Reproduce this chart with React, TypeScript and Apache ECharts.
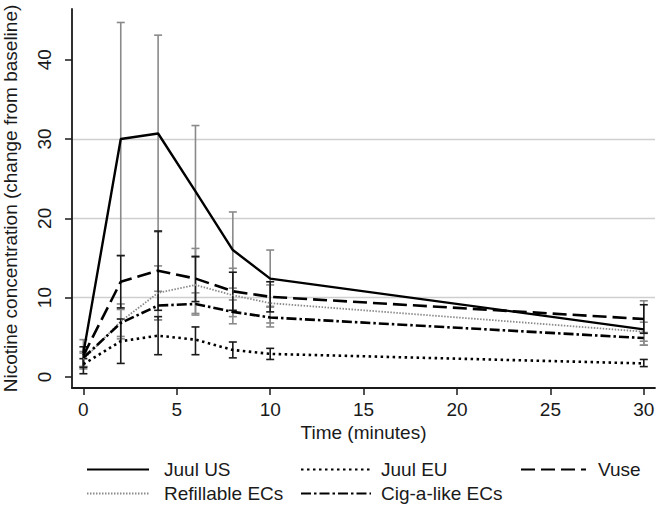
import React, { useEffect, useRef } from "react";
import * as echarts from "echarts";

const times = [0, 2, 4, 6, 8, 10, 30];
const xTicks = [0, 5, 10, 15, 20, 25, 30];
const yTicks = [0, 10, 20, 30, 40];

const seriesNames = ["Juul US", "Juul EU", "Vuse", "Refillable ECs", "Cig-a-like ECs"];

const juulUS = [3.0, 30.0, 30.7, 23.4, 16.0, 12.4, 6.0];
const juulUSLow = [1.3, 15.3, 18.3, 15.1, 11.2, 8.9, 4.0];
const juulUSHigh = [4.7, 44.7, 43.1, 31.7, 20.8, 16.0, 9.6];

const juulEU = [1.6, 4.5, 5.2, 4.7, 3.4, 2.9, 1.7];
const juulEULow = [0.4, 1.7, 2.8, 2.8, 2.4, 2.2, 1.3];
const juulEUHigh = [2.3, 7.3, 7.6, 6.3, 4.4, 3.6, 2.2];

const vuse = [2.7, 12.0, 13.4, 12.4, 10.8, 10.1, 7.3];
const vuseLow = [1.2, 8.7, 8.4, 9.5, 8.4, 8.2, 5.5];
const vuseHigh = [3.8, 15.3, 18.4, 15.2, 13.2, 12.0, 9.1];

const refill = [2.2, 7.0, 10.6, 11.6, 10.3, 9.3, 5.7];
const refillLow = [1.0, 4.8, 7.2, 8.0, 7.6, 6.8, 4.5];
const refillHigh = [3.2, 9.2, 14.0, 16.2, 13.7, 11.6, 6.9];

const cig = [2.4, 6.8, 9.0, 9.2, 8.2, 7.5, 4.9];
const cigLow = [1.3, 5.1, 7.2, 7.8, 6.7, 6.3, 4.0];
const cigHigh = [3.0, 8.5, 10.8, 10.6, 9.7, 8.8, 5.6];

const FONT = "'Liberation Sans', Arial, sans-serif";
const GREY = "#8a8a8a";
const DARK = "#1a1a1a";

function errorSeries(low: number[], high: number[], color: string, z: number) {
  return {
    type: "custom",
    z,
    silent: true,
    data: times.map((t, i) => [t, low[i], high[i]]),
    renderItem: (params: any, api: any) => {
      const x = api.value(0);
      const p1 = api.coord([x, api.value(1)]);
      const p2 = api.coord([x, api.value(2)]);
      const w = 4;
      const style = { stroke: color, lineWidth: 1.6, fill: null };
      return {
        type: "group",
        children: [
          { type: "line", shape: { x1: p1[0], y1: p1[1], x2: p2[0], y2: p2[1] }, style },
          { type: "line", shape: { x1: p1[0] - w, y1: p1[1], x2: p1[0] + w, y2: p1[1] }, style },
          { type: "line", shape: { x1: p2[0] - w, y1: p2[1], x2: p2[0] + w, y2: p2[1] }, style },
        ],
      };
    },
  };
}

function lineSeries(name: string, values: number[], color: string, width: number, dash: any) {
  return {
    type: "line",
    name,
    z: 5,
    symbol: "none",
    symbolSize: 0,
    data: times.map((t, i) => [t, values[i]]),
    lineStyle: { color, width, type: dash, cap: "butt" },
    itemStyle: { color },
  };
}

function legendAt(name: string, left: number, top: number, itemWidth: number, gap: number) {
  return {
    data: [name],
    left,
    top,
    itemWidth,
    itemHeight: 14,
    itemGap: 0,
    selectedMode: false,
    itemStyle: { opacity: 0, borderWidth: 0 },
    textStyle: { fontFamily: FONT, fontSize: 19, color: DARK, padding: [0, 0, 0, gap - 5] },
    padding: 0,
  };
}

export default function App() {
  const ref = useRef<HTMLDivElement>(null);
  useEffect(() => {
    if (!ref.current) return;
    const chart = echarts.init(ref.current, null, { renderer: "svg" });
    chart.setOption({
      animation: false,
      backgroundColor: "#fff",
      grid: { left: 72, right: 2, top: 9, bottom: 120, containLabel: false, outerBoundsMode: "none" },
      xAxis: {
        type: "value",
        min: -0.61,
        max: 30.6,
        name: "Time (minutes)",
        nameLocation: "middle",
        nameGap: 35,
        nameMoveOverlap: false,
        nameTextStyle: { fontFamily: FONT, fontSize: 19, color: DARK, lineHeight: 19 },
        axisLine: { show: true, onZero: false, lineStyle: { color: DARK, width: 1.8 } },
        axisTick: { show: true, length: 7, customValues: xTicks, lineStyle: { color: DARK, width: 1.5 } },
        axisLabel: { customValues: xTicks, margin: 12, fontFamily: FONT, fontSize: 19, color: DARK, lineHeight: 19 },
        splitLine: { show: false },
      },
      yAxis: {
        type: "value",
        min: -1.4,
        max: 46.4,
        name: "Nicotine concentration (change from baseline)",
        nameLocation: "middle",
        nameGap: 52,
        nameMoveOverlap: false,
        nameTextStyle: { fontFamily: FONT, fontSize: 19, color: DARK },
        axisLine: { show: true, onZero: false, lineStyle: { color: DARK, width: 1.8 } },
        axisTick: { show: true, length: 7, customValues: yTicks, lineStyle: { color: DARK, width: 1.5 } },
        axisLabel: {
          customValues: yTicks,
          rotate: 90,
          margin: 18,
          align: "center",
          verticalAlign: "bottom",
          fontFamily: FONT,
          fontSize: 19,
          color: DARK,
        },
        splitLine: {
          show: true,
          showMinLine: false,
          showMaxLine: false,
          lineStyle: { color: "#cfcfcf", width: 1.3 },
        },
      },
      legend: [
        legendAt("Juul US", 86, 460, 62, 15),
        legendAt("Juul EU", 300, 460, 70, 10),
        legendAt("Vuse", 520, 460, 65, 12),
        legendAt("Refillable ECs", 86, 484, 62, 15),
        legendAt("Cig-a-like ECs", 300, 484, 70, 10),
      ],
      series: [
        errorSeries(juulUSLow, juulUSHigh, GREY, 1),
        errorSeries(refillLow, refillHigh, GREY, 1),
        errorSeries(cigLow, cigHigh, GREY, 1),
        errorSeries(vuseLow, vuseHigh, DARK, 2),
        errorSeries(juulEULow, juulEUHigh, DARK, 2),
        lineSeries("Juul US", juulUS, "#000", 2.4, "solid"),
        lineSeries("Juul EU", juulEU, "#000", 2.6, [2.5, 3.5]),
        lineSeries("Vuse", vuse, "#000", 2.6, [14, 6]),
        lineSeries("Refillable ECs", refill, "#8a8a8a", 1.8, [1.5, 1.5]),
        lineSeries("Cig-a-like ECs", cig, "#000", 2.6, [10, 3, 2.5, 3]),
      ],
    });
    return () => chart.dispose();
  }, []);
  return <div ref={ref} style={{ width: 657, height: 508, position: "absolute", left: 0, top: 0 }} />;
}
